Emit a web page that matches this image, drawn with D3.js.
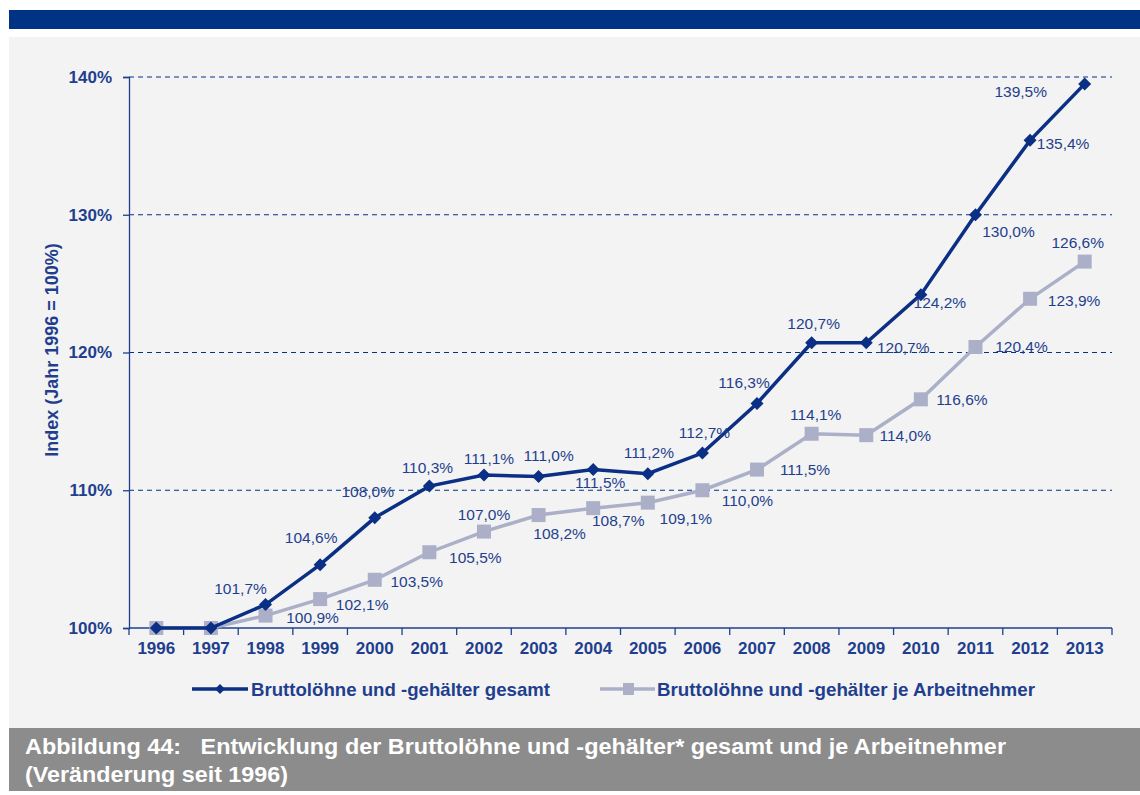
<!DOCTYPE html>
<html><head><meta charset="utf-8">
<script src="https://cdn.jsdelivr.net/npm/d3@7/dist/d3.min.js"></script>
<style>body{margin:0;background:#fff;}svg{display:block;font-family:"Liberation Sans",Arial,sans-serif;}</style>
</head><body>
<svg id="c" width="1140" height="795"></svg>
<script>
const years = ["1996","1997","1998","1999","2000","2001","2002","2003","2004","2005","2006","2007","2008","2009","2010","2011","2012","2013"];
const gesamt = [100,100,101.7,104.6,108.0,110.3,111.1,111.0,111.5,111.2,112.7,116.3,120.7,120.7,124.2,130.0,135.4,139.5];
const jeAN = [100,100,100.9,102.1,103.5,105.5,107.0,108.2,108.7,109.1,110.0,111.5,114.1,114.0,116.6,120.4,123.9,126.6];
const yTicks = [100,110,120,130,140];
const seriesNames = ["Bruttolöhne und -gehälter gesamt","Bruttolöhne und -gehälter je Arbeitnehmer"];
// label offsets (layout only): [dx, dy] of label centre relative to point
const offG = [null,null,[-25,-16],[-9,-27],[-7,-26],[-2,-19],[5,-17],[10,-21],[7,13],[1,-21],[2,-21],[-13,-21],[2,-19],[37,5],[19,8],[33,17],[33,3],[-64,8]];
const offJ = [null,null,[47,2],[42,5],[42,2],[46,5],[0,-17],[21,18],[25,12],[38,16],[45,10],[48,0],[4,-19],[39,0],[41,0],[46,0],[44,2],[-7,-19]];

const svg = d3.select("#c");
const navy = "#003383", txt = "#1F3F8E", lineBlue = "#0A2F85", gray2 = "#ABB0C8";

svg.append("rect").attr("x",9).attr("y",10).attr("width",1131).attr("height",19).attr("fill",navy);
svg.append("rect").attr("x",9).attr("y",37).attr("width",1131).attr("height",691).attr("fill","#F3F3F3");
svg.append("rect").attr("x",9).attr("y",728).attr("width",1131).attr("height",63).attr("fill","#8C8C8C");
svg.append("text").attr("x",25).attr("y",754).attr("fill","#fff").attr("font-size",22).attr("font-weight","bold")
  .attr("textLength",981).attr("lengthAdjust","spacingAndGlyphs")
  .attr("xml:space","preserve").text("Abbildung 44:   Entwicklung der Bruttolöhne und -gehälter* gesamt und je Arbeitnehmer");
svg.append("text").attr("x",25).attr("y",782).attr("fill","#fff").attr("font-size",22).attr("font-weight","bold")
  .attr("textLength",263).attr("lengthAdjust","spacingAndGlyphs")
  .text("(Veränderung seit 1996)");

const L = 129, R = 1112, T = 77, B = 628;
const x = d3.scaleBand().domain(years).range([L,R]);
const y = d3.scaleLinear().domain([100,140]).range([B,T]);
const cx = d => x(d) + x.bandwidth()/2;

// grid
svg.append("g").selectAll("line").data(yTicks.slice(1)).join("line")
  .attr("x1",L).attr("x2",R).attr("y1",d=>y(d)).attr("y2",d=>y(d))
  .attr("stroke",navy).attr("stroke-width",1).attr("stroke-dasharray","5,4");

// y axis
const ya = svg.append("g").attr("transform",`translate(${L},0)`)
  .call(d3.axisLeft(y).tickValues(yTicks).tickFormat(d=>d+"%").tickSize(6).tickPadding(11));
ya.select(".domain").attr("stroke",txt).attr("stroke-width",1.3);
ya.selectAll(".tick line").attr("stroke",txt).attr("stroke-width",1.3);
ya.selectAll("text").attr("fill",txt).attr("font-size",17).attr("font-weight","bold").attr("font-family","Liberation Sans, Arial");

// x axis
const xa = svg.append("g").attr("transform",`translate(0,${B})`)
  .call(d3.axisBottom(x).tickSize(0).tickPadding(14));
xa.select(".domain").attr("stroke",txt).attr("stroke-width",1.3).attr("d",`M${L},0H${R}`);
xa.selectAll("text").attr("fill",txt).attr("font-size",17).attr("font-weight","bold").attr("font-family","Liberation Sans, Arial");
svg.append("g").selectAll("line").data(years.concat(["end"])).join("line")
  .attr("x1",(d,i)=>L+i*x.step()).attr("x2",(d,i)=>L+i*x.step())
  .attr("y1",B).attr("y2",B+7).attr("stroke",txt).attr("stroke-width",1.3);

svg.append("text").attr("transform",`translate(58,350) rotate(-90)`).attr("text-anchor","middle")
  .attr("fill",txt).attr("font-size",18).attr("font-weight","bold").text("Index (Jahr 1996 = 100%)");

const line = d3.line().x((d,i)=>cx(years[i])).y(d=>y(d));
svg.append("path").datum(jeAN).attr("d",line).attr("fill","none").attr("stroke",gray2).attr("stroke-width",3.5);
svg.append("g").selectAll("rect").data(jeAN).join("rect")
  .attr("x",(d,i)=>cx(years[i])-7).attr("y",d=>y(d)-7).attr("width",14).attr("height",14).attr("fill",gray2);
svg.append("path").datum(gesamt).attr("d",line).attr("fill","none").attr("stroke",lineBlue).attr("stroke-width",3.5);
const dia = s => `M0,${-s}L${s},0L0,${s}L${-s},0Z`;
svg.append("g").selectAll("path").data(gesamt).join("path")
  .attr("transform",(d,i)=>`translate(${cx(years[i])},${y(d)})`).attr("d",dia(6.5)).attr("fill",lineBlue);

const fmt = v => v.toFixed(1).replace(".",",")+"%";
function labels(vals, offs){
  svg.append("g").selectAll("text").data(vals.map((v,i)=>({v,i})).filter(d=>offs[d.i])).join("text")
    .attr("x",d=>cx(years[d.i])+offs[d.i][0]).attr("y",d=>y(d.v)+offs[d.i][1]+5.5)
    .attr("text-anchor","middle").attr("fill",txt).attr("font-size",15.5).text(d=>fmt(d.v));
}
labels(gesamt, offG);
labels(jeAN, offJ);

// legend
const lg = svg.append("g");
lg.append("line").attr("x1",192).attr("x2",248).attr("y1",689).attr("y2",689).attr("stroke",lineBlue).attr("stroke-width",3.5);
lg.append("path").attr("transform","translate(220,689)").attr("d",dia(5)).attr("fill",lineBlue);
lg.append("text").attr("x",251).attr("y",696).attr("fill",txt).attr("font-size",18.5).attr("font-weight","bold")
  .attr("textLength",299).attr("lengthAdjust","spacingAndGlyphs").text(seriesNames[0]);
lg.append("line").attr("x1",600).attr("x2",655).attr("y1",689).attr("y2",689).attr("stroke",gray2).attr("stroke-width",3.5);
lg.append("rect").attr("x",623).attr("y",683).attr("width",11).attr("height",12).attr("fill",gray2);
lg.append("text").attr("x",657).attr("y",696).attr("fill",txt).attr("font-size",18.5).attr("font-weight","bold")
  .attr("textLength",378).attr("lengthAdjust","spacingAndGlyphs").text(seriesNames[1]);
</script>
</body></html>
